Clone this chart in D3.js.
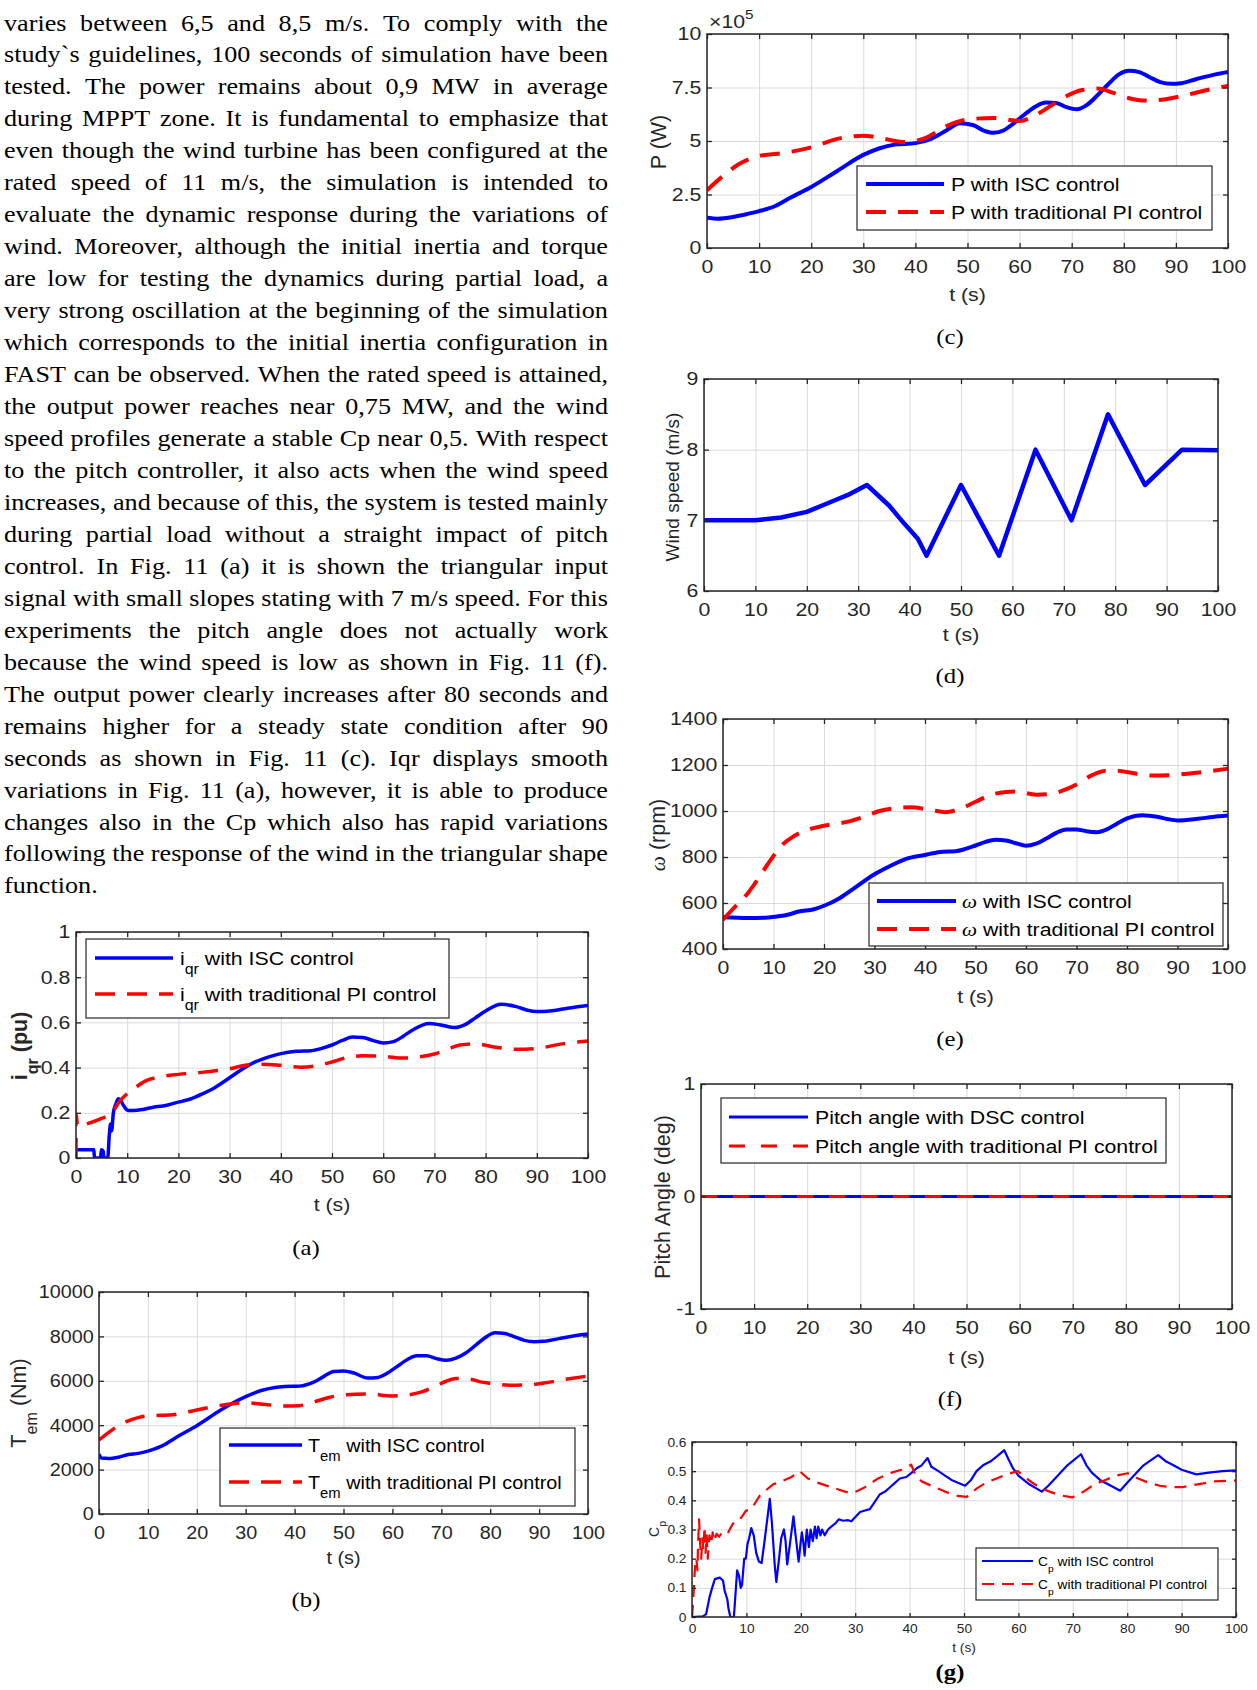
<!DOCTYPE html>
<html>
<head>
<meta charset="utf-8">
<script src="https://cdn.jsdelivr.net/npm/d3@7"></script>
<style>
  body { margin: 0; background: #fff; }
  svg { display: block; }
</style>
</head>
<body>
<svg id="page"></svg>
<script>
// ---- text of the left column ----
const textLines = [
  "varies between 6,5 and 8,5 m/s. To comply with the",
  "study`s guidelines, 100 seconds of simulation have been",
  "tested. The power remains about 0,9 MW in average",
  "during MPPT zone. It is fundamental to emphasize that",
  "even though the wind turbine has been configured at the",
  "rated speed of 11 m/s, the simulation is intended to",
  "evaluate the dynamic response during the variations of",
  "wind. Moreover, although the initial inertia and torque",
  "are low for testing the dynamics during partial load, a",
  "very strong oscillation at the beginning of the simulation",
  "which corresponds to the initial inertia configuration in",
  "FAST can be observed. When the rated speed is attained,",
  "the output power reaches near 0,75 MW, and the wind",
  "speed profiles generate a stable Cp near 0,5. With respect",
  "to the pitch controller, it also acts when the wind speed",
  "increases, and because of this, the system is tested mainly",
  "during partial load without a straight impact of pitch",
  "control. In Fig. 11 (a) it is shown the triangular input",
  "signal with small slopes stating with 7 m/s speed. For this",
  "experiments the pitch angle does not actually work",
  "because the wind speed is low as shown in Fig. 11 (f).",
  "The output power clearly increases after 80 seconds and",
  "remains higher for a steady state condition after 90",
  "seconds as shown in Fig. 11 (c). Iqr displays smooth",
  "variations in Fig. 11 (a), however, it is able to produce",
  "changes also in the Cp which also has rapid variations",
  "following the response of the wind in the triangular shape",
  "function."
];

// ---- tick labels ----
const timeTicks = [0, 10, 20, 30, 40, 50, 60, 70, 80, 90, 100];
const iqrTicks = [0, 0.2, 0.4, 0.6, 0.8, 1];
const temTicks = [0, 2000, 4000, 6000, 8000, 10000];
const powerTicks = [0, 2.5, 5, 7.5, 10];
const windTicks = [6, 7, 8, 9];
const omegaTicks = [400, 600, 800, 1000, 1200, 1400];
const pitchTicks = [-1, 0, 1];
const cpTicks = [0, 0.1, 0.2, 0.3, 0.4, 0.5, 0.6];

// ---- series, [t (s), value] ----
const iqrIsc = [[0,0.037],[3.5,0.037],[3.6,0],[4.8,0],[4.95,0.037],[5.3,0.03],[5.45,0],[6.2,0],[6.5,0.1],[6.75,0.15],[6.95,0.12],[7.3,0.2],[7.8,0.24],[8.25,0.262],[8.7,0.255],[9.35,0.23],[10.2,0.21],[11.2,0.21],[13.1,0.215],[15.1,0.225],[17,0.23],[19.6,0.245],[22.2,0.26],[24.8,0.285],[27,0.31],[30,0.355],[33,0.4],[35,0.425],[38,0.45],[40,0.462],[43,0.472],[46,0.475],[48,0.485],[50,0.5],[52,0.52],[54,0.535],[56,0.533],[58,0.52],[60,0.509],[62,0.515],[64,0.54],[66,0.57],[69,0.595],[71,0.59],[74,0.577],[76,0.59],[78,0.62],[80,0.65],[83,0.68],[86,0.67],[88,0.655],[90,0.648],[93,0.652],[96,0.663],[100,0.675]];
const iqrPi = [[0,0],[0.05,0.19],[0.3,0.14],[2,0.15],[5,0.175],[7,0.2],[8.5,0.25],[10,0.285],[11.5,0.31],[13.5,0.34],[16.7,0.36],[20,0.37],[25,0.38],[30,0.395],[33,0.41],[36,0.415],[40,0.41],[44,0.402],[47,0.408],[50,0.425],[53,0.445],[56,0.452],[60,0.45],[64,0.442],[67,0.447],[70,0.46],[73,0.485],[75,0.5],[78,0.505],[82,0.49],[86,0.481],[90,0.485],[95,0.505],[100,0.518]];

const temIsc = [[0,2690],[0.5,2520],[2,2500],[4,2560],[6,2680],[8,2730],[10,2830],[13,3080],[16,3480],[20,3980],[25,4700],[30,5285],[33,5550],[36,5700],[38,5740],[41,5760],[44,5950],[46,6200],[48,6420],[50,6440],[52,6360],[55,6126],[57,6150],[59,6350],[61,6650],[63,6950],[65,7130],[67,7130],[69,7000],[71,6922],[73,7020],[75,7250],[77,7600],[79,7950],[81,8160],[83,8130],[85,7980],[87,7820],[89,7763],[91,7780],[94,7900],[97,8020],[100,8108]];
const temPi = [[0,3333],[2,3680],[4,3980],[6,4200],[8,4340],[10,4420],[15,4470],[20,4685],[25,4900],[30,5015],[34,4930],[38,4860],[41,4880],[44,5050],[47,5250],[50,5360],[55,5410],[60,5320],[63,5360],[66,5500],[69,5780],[71,5980],[73,6100],[76,6070],[78,5950],[80,5886],[84,5800],[88,5820],[91,5900],[95,6050],[100,6216]];

const powerIsc = [[0,1.41],[2,1.37],[5,1.45],[7,1.55],[10,1.72],[13,1.95],[16,2.35],[20,2.85],[25,3.6],[30,4.35],[33,4.65],[36,4.83],[40,4.9],[43,5.1],[46,5.5],[48.5,5.83],[51,5.75],[53,5.5],[55,5.38],[57,5.5],[59,5.85],[61,6.25],[63,6.6],[65,6.8],[67,6.78],[69,6.58],[71,6.48],[73,6.7],[75,7.15],[77,7.65],[79,8.1],[81,8.28],[83,8.22],[85,7.98],[87,7.75],[89,7.67],[91,7.7],[94,7.9],[97,8.08],[100,8.22]];
const powerPi = [[0,2.7],[3,3.35],[6,3.9],[10,4.3],[15,4.45],[20,4.7],[25,5.1],[30,5.25],[34,5.1],[38,4.95],[42,5.15],[46,5.7],[50,6.0],[55,6.08],[60,5.94],[63,6.2],[66,6.65],[69,7.1],[72,7.38],[75,7.45],[78,7.25],[81,7.0],[84,6.89],[88,6.95],[92,7.15],[96,7.38],[100,7.58]];

const windSpeed = [[0,7],[10,7],[15,7.04],[20,7.12],[25,7.27],[28,7.36],[31.7,7.5],[36,7.21],[39,6.95],[41.6,6.74],[43.3,6.5],[50,7.5],[57.4,6.5],[64.5,8.0],[71.5,7.0],[78.6,8.5],[85.8,7.5],[93,8.0],[100,7.99]];

const omegaIsc = [[0,538],[5,535],[9,537],[11,542],[13,550],[15,563],[18,573],[20,588],[23,620],[26,665],[30,725],[33,760],[36,790],[40,809],[43,822],[46,825],[48,835],[50,850],[52,866],[54,875],[56,872],[58,860],[60,849],[62,858],[64,880],[66,905],[68,920],[70,920],[72,912],[74,908],[76,920],[78,945],[80,968],[83,982],[86,975],[88,965],[90,959],[94,966],[97,974],[100,980]];
const omegaPi = [[0,527],[2,575],[5,645],[8,740],[10,805],[12,858],[14,890],[17,920],[20,936],[25,955],[28,975],[31,1000],[34,1012],[37,1016],[41,1005],[44,995],[47,1010],[50,1040],[53,1070],[56,1083],[58,1085],[62,1071],[65,1075],[68,1095],[70,1115],[73,1155],[76,1175],[78,1175],[81,1165],[85,1154],[88,1155],[92,1162],[96,1172],[100,1184]];

const pitchDsc = [[0,0],[100,0]];
const pitchPi = [[0,0],[100,0]];

const cpIsc = [[0,0],[2,0.002],[2.6,0.01],[3.25,0.07],[3.7,0.1],[4.2,0.13],[5.1,0.135],[5.7,0.125],[6,0.09],[6.5,0.06],[6.7,0.03],[7.05,0],[7.7,0],[8,0.08],[8.3,0.16],[8.65,0.14],[8.95,0.1],[9.2,0.11],[9.6,0.2],[9.9,0.2],[10.2,0.25],[10.5,0.27],[10.9,0.305],[11.35,0.28],[11.8,0.22],[12.3,0.19],[12.8,0.185],[13.4,0.27],[14.3,0.405],[14.7,0.32],[15.2,0.18],[15.5,0.12],[16,0.2],[16.4,0.27],[16.9,0.3],[17.2,0.26],[17.5,0.18],[18,0.25],[18.65,0.345],[19.1,0.27],[19.6,0.19],[20,0.26],[20.2,0.29],[20.5,0.25],[20.7,0.21],[21.1,0.3],[21.5,0.24],[21.8,0.3],[22.2,0.26],[22.6,0.31],[22.9,0.27],[23.2,0.31],[23.6,0.28],[23.9,0.3],[24.4,0.28],[25,0.3],[25.6,0.31],[26.3,0.32],[27,0.335],[27.8,0.33],[28.7,0.332],[29.3,0.328],[29.9,0.34],[30.9,0.36],[31.8,0.365],[32.7,0.37],[33.6,0.395],[34.5,0.42],[35.5,0.43],[36.4,0.445],[37.3,0.46],[38.2,0.475],[39.4,0.48],[40.4,0.495],[41.3,0.51],[42.2,0.52],[43.3,0.545],[44,0.515],[45.3,0.5],[46.5,0.485],[47.7,0.47],[48.9,0.46],[50.2,0.45],[51.3,0.47],[52.3,0.5],[53.5,0.52],[55,0.535],[56,0.55],[57.4,0.572],[58.2,0.54],[59,0.51],[60,0.485],[62,0.455],[64.3,0.43],[65.5,0.45],[67,0.48],[69,0.52],[71.5,0.558],[72.5,0.52],[73.5,0.495],[75,0.47],[77,0.45],[78.7,0.433],[80,0.46],[81.5,0.49],[83,0.52],[85.7,0.555],[87,0.535],[88.5,0.52],[90,0.505],[92.7,0.489],[95,0.495],[97.5,0.5],[100,0.503]];
const cpPi = [[0,0],[0.2,0.05],[0.4,0.12],[0.6,0.19],[0.8,0.2],[1.0,0.16],[1.1,0.24],[1.3,0.335],[1.5,0.25],[1.7,0.2],[1.9,0.27],[2.1,0.23],[2.3,0.31],[2.5,0.22],[2.7,0.28],[2.9,0.2],[3.2,0.28],[3.5,0.25],[3.8,0.29],[4.1,0.26],[4.5,0.285],[5,0.275],[5.5,0.29],[6.5,0.285],[7.5,0.32],[8.5,0.325],[9.9,0.364],[10.9,0.37],[12.5,0.417],[14.9,0.455],[15.8,0.46],[18.3,0.48],[19.8,0.5],[21.3,0.475],[23.2,0.46],[25.6,0.445],[28.1,0.43],[29.6,0.425],[31.8,0.445],[34.2,0.475],[36.7,0.495],[38.5,0.505],[40.3,0.522],[41,0.49],[42.2,0.465],[44,0.45],[46.5,0.43],[48.9,0.415],[50.5,0.412],[52.3,0.44],[54,0.46],[56,0.475],[58,0.49],[59.9,0.5],[61.5,0.475],[63,0.455],[65,0.435],[67.5,0.418],[69.9,0.41],[72,0.43],[74,0.455],[76,0.47],[78,0.485],[80.1,0.493],[82,0.475],[84,0.46],[86,0.45],[88,0.445],[90,0.445],[92,0.452],[94,0.458],[96,0.465],[100,0.468]];

// ---- look ----
const SANS = "'Liberation Sans', Arial, Helvetica, sans-serif";
const SERIF = "'Liberation Serif', 'Times New Roman', serif";
const INK = "#262626";
const BLUE = "#0000ff", RED = "#ff0000";

const svg = d3.select("#page").attr("width", 1257).attr("height", 1690);
svg.append("rect").attr("width", 1257).attr("height", 1690).attr("fill", "#fff");

// tspans with sub/superscripts: parts like [["T"],["em","sub"],[" with ..."]]
function addParts(text, parts, fs) {
  let shift = 0;
  parts.forEach(([s, kind]) => {
    const ts = text.append("tspan").text(s);
    let target = 0;
    if (kind === "sub") { ts.attr("font-size", fs * 0.75); target = fs * 0.5; }
    if (kind === "sup") { ts.attr("font-size", fs * 0.72); target = -fs * 0.5; }
    if (kind === "it") ts.attr("font-family", SERIF).attr("font-style", "italic");
    if (target !== shift) { ts.attr("dy", target - shift); shift = target; }
  });
}

// ---- paragraph, justified ----
const PFS = 24, PX = 4, PW = 604, PSX = 1.09;
const para = svg.append("g").attr("font-family", SERIF).attr("font-size", PFS).attr("fill", "#000");
textLines.forEach((line, i) => {
  const y = 30.5 + i * 31.96;
  const words = line.split(" ");
  const ws = words.map(w => {
    const tmp = para.append("text").text(w);
    const len = tmp.node().getComputedTextLength() * PSX;
    tmp.remove();
    return len;
  });
  const last = i === textLines.length - 1;
  const gap = last ? PFS * 0.25 * PSX : (PW - d3.sum(ws)) / (words.length - 1);
  if (gap < 3) {
    para.append("text").attr("x", PX).attr("y", y)
      .attr("textLength", PW).attr("lengthAdjust", "spacingAndGlyphs").text(line);
    return;
  }
  let x = PX;
  words.forEach((w, j) => {
    para.append("text").attr("transform", `translate(${x},${y}) scale(${PSX},1)`).text(w);
    x += ws[j] + gap;
  });
});

// ---- one MATLAB-style axes ----
function panel(cfg) {
  const g = svg.append("g");
  const { l, r, t, b } = cfg.box;
  const fs = cfg.fs || 18.5;
  const sx = cfg.sx || 1.15;
  const tick = cfg.tick || 5;
  const x = d3.scaleLinear().domain([0, 100]).range([l, r]);
  const y = d3.scaleLinear().domain(cfg.yDomain).range([b, t]);

  g.append("clipPath").attr("id", "clip-" + cfg.id)
    .append("rect").attr("x", l).attr("y", t).attr("width", r - l).attr("height", b - t);

  // grid
  g.append("g").attr("transform", `translate(0,${b})`)
    .call(d3.axisBottom(x).tickValues(timeTicks).tickSize(-(b - t)).tickFormat(""))
    .call(s => s.select(".domain").remove())
    .selectAll("line").attr("stroke", "#dadada");
  g.append("g").attr("transform", `translate(${l},0)`)
    .call(d3.axisLeft(y).tickValues(cfg.yTicks).tickSize(-(r - l)).tickFormat(""))
    .call(s => s.select(".domain").remove())
    .selectAll("line").attr("stroke", "#dadada");

  // data
  const line = d3.line().x(d => x(d[0])).y(d => y(d[1])).curve(cfg.curve || d3.curveMonotoneX);
  cfg.series.forEach(s => {
    g.append("path").attr("clip-path", `url(#clip-${cfg.id})`)
      .attr("d", line(s.data)).attr("fill", "none")
      .attr("stroke", s.color).attr("stroke-width", s.width)
      .attr("stroke-dasharray", s.dash || null).attr("stroke-linejoin", "round");
  });

  // ticks and labels on all sides
  const axes = [
    [d3.axisBottom(x).tickValues(timeTicks).tickFormat(String), `translate(0,${b})`],
    [d3.axisLeft(y).tickValues(cfg.yTicks).tickFormat(String), `translate(${l},0)`],
    [d3.axisTop(x).tickValues(timeTicks).tickFormat(""), `translate(0,${t})`],
    [d3.axisRight(y).tickValues(cfg.yTicks).tickFormat(""), `translate(${r},0)`]
  ];
  axes.forEach(([ax, tr], k) => {
    const a = g.append("g").attr("transform", tr)
      .call(ax.tickSize(-tick).tickSizeOuter(0).tickPadding(k === 0 ? cfg.padX : 5))
      .attr("font-family", SANS).attr("font-size", fs);
    a.select(".domain").remove();
    a.selectAll("line").attr("stroke", INK).attr("stroke-width", 1.3);
    a.selectAll("text").attr("fill", INK).attr("transform", `scale(${sx},1)`);
  });
  g.append("rect").attr("x", l).attr("y", t).attr("width", r - l).attr("height", b - t)
    .attr("fill", "none").attr("stroke", INK).attr("stroke-width", 1.5);

  // x label
  g.append("text").attr("transform", `translate(${(l + r) / 2},${cfg.xLabelY}) scale(${sx},1)`)
    .attr("text-anchor", "middle").attr("font-family", SANS).attr("font-size", fs)
    .attr("fill", INK).text("t (s)");

  // y label
  const yfs = cfg.yLabel.fs || 21.5;
  const yl = g.append("text").attr("transform", `translate(${cfg.yLabel.x},${cfg.yLabel.y}) rotate(-90)`)
    .attr("text-anchor", "middle").attr("font-family", SANS).attr("font-size", yfs)
    .attr("font-weight", cfg.yLabel.bold ? "bold" : null).attr("fill", INK);
  addParts(yl, cfg.yLabel.parts, yfs);

  // legend
  if (cfg.legend) {
    const L = cfg.legend;
    g.append("rect").attr("x", L.x0).attr("y", L.y0).attr("width", L.x1 - L.x0).attr("height", L.y1 - L.y0)
      .attr("fill", "#fff").attr("stroke", INK).attr("stroke-width", 1.2);
    cfg.series.forEach((s, i) => {
      const yc = L.rows[i];
      g.append("line").attr("x1", L.s0).attr("x2", L.s1).attr("y1", yc).attr("y2", yc)
        .attr("stroke", s.color).attr("stroke-width", s.width).attr("stroke-dasharray", s.dash || null);
      const tx = g.append("text").attr("transform", `translate(${L.tx},${yc + fs * 0.36}) scale(${sx},1)`)
        .attr("font-family", SANS).attr("font-size", fs).attr("fill", "#000");
      addParts(tx, s.label, fs);
    });
  }

  // caption
  g.append("text").attr("transform", `translate(${cfg.caption.x},${cfg.caption.y}) scale(1.15,1)`)
    .attr("text-anchor", "middle").attr("font-family", SERIF).attr("font-size", 21.5)
    .attr("font-weight", cfg.caption.bold ? "bold" : null).attr("fill", "#000").text(cfg.caption.text);
  return g;
}

// (a) iqr
panel({
  id: "a", box: { l: 76, r: 588, t: 932, b: 1158 }, yDomain: [0, 1], yTicks: iqrTicks, padX: 12,
  series: [
    { data: iqrIsc, color: BLUE, width: 3.5, label: [["i"], ["qr", "sub"], [" with ISC control"]] },
    { data: iqrPi, color: RED, width: 3.5, dash: "20,12", label: [["i"], ["qr", "sub"], [" with traditional PI control"]] }
  ],
  legend: { x0: 86, x1: 449, y0: 939, y1: 1018, s0: 95, s1: 173, tx: 180, rows: [958, 994] },
  xLabelY: 1211,
  yLabel: { x: 27, y: 1046, bold: true, parts: [["i"], ["qr", "sub"], [" (pu)"]] },
  caption: { x: 306, y: 1255, text: "(a)" }
});

// (b) Tem
panel({
  id: "b", box: { l: 99, r: 588, t: 1292, b: 1514 }, yDomain: [0, 10000], yTicks: temTicks, padX: 12, sx: 1.07,
  series: [
    { data: temIsc, color: BLUE, width: 3.5, label: [["T"], ["em", "sub"], [" with ISC control"]] },
    { data: temPi, color: RED, width: 3.5, dash: "20,12", label: [["T"], ["em", "sub"], [" with traditional PI control"]] }
  ],
  legend: { x0: 220, x1: 575, y0: 1428, y1: 1506, s0: 229, s1: 302, tx: 308, rows: [1445, 1482] },
  xLabelY: 1564,
  yLabel: { x: 26, y: 1403, parts: [["T"], ["em", "sub"], [" (Nm)"]] },
  caption: { x: 306, y: 1607, text: "(b)" }
});

// (c) power
panel({
  id: "c", box: { l: 707, r: 1228, t: 34, b: 248 }, yDomain: [0, 10], yTicks: powerTicks, padX: 12,
  series: [
    { data: powerIsc, color: BLUE, width: 4, label: [["P with ISC control"]] },
    { data: powerPi, color: RED, width: 4, dash: "20,12", label: [["P with traditional PI control"]] }
  ],
  legend: { x0: 857, x1: 1212, y0: 166, y1: 230, s0: 866, s1: 944, tx: 951, rows: [184, 212] },
  xLabelY: 301,
  yLabel: { x: 666, y: 142, parts: [["P (W)"]] },
  caption: { x: 950, y: 344, text: "(c)" }
});
const expo = svg.append("text").attr("transform", "translate(709,28) scale(1.15,1)")
  .attr("font-family", SANS).attr("font-size", 18.5).attr("fill", INK);
addParts(expo, [["×10"], ["5", "sup"]], 18.5);

// (d) wind speed
panel({
  id: "d", box: { l: 704, r: 1218, t: 379, b: 591 }, yDomain: [6, 9], yTicks: windTicks, padX: 12,
  curve: d3.curveLinear,
  series: [{ data: windSpeed, color: BLUE, width: 4.5 }],
  xLabelY: 641,
  yLabel: { x: 679, y: 487, fs: 19, parts: [["Wind speed (m/s)"]] },
  caption: { x: 950, y: 683, text: "(d)" }
});

// (e) omega
panel({
  id: "e", box: { l: 723, r: 1228, t: 719, b: 949 }, yDomain: [400, 1400], yTicks: omegaTicks, padX: 12,
  series: [
    { data: omegaIsc, color: BLUE, width: 4, label: [["ω", "it"], [" with ISC control"]] },
    { data: omegaPi, color: RED, width: 4, dash: "20,12", label: [["ω", "it"], [" with traditional PI control"]] }
  ],
  legend: { x0: 869, x1: 1223, y0: 883, y1: 946, s0: 877, s1: 956, tx: 962, rows: [901, 929] },
  xLabelY: 1003,
  yLabel: { x: 665, y: 835, parts: [["ω", "it"], [" (rpm)"]] },
  caption: { x: 950, y: 1046, text: "(e)" }
});

// (f) pitch angle
panel({
  id: "f", box: { l: 701, r: 1232, t: 1084, b: 1309 }, yDomain: [-1, 1], yTicks: pitchTicks, padX: 12,
  curve: d3.curveLinear,
  series: [
    { data: pitchDsc, color: BLUE, width: 3, label: [["Pitch angle with DSC control"]] },
    { data: pitchPi, color: RED, width: 3, dash: "16,16", label: [["Pitch angle with traditional PI control"]] }
  ],
  legend: { x0: 721, x1: 1166, y0: 1098, y1: 1163, s0: 729, s1: 808, tx: 815, rows: [1117, 1146] },
  xLabelY: 1364,
  yLabel: { x: 670, y: 1197, parts: [["Pitch Angle (deg)"]] },
  caption: { x: 950, y: 1406, text: "(f)" }
});

// (g) Cp
panel({
  id: "g", box: { l: 692, r: 1236, t: 1442, b: 1617 }, yDomain: [0, 0.6], yTicks: cpTicks, padX: 7,
  fs: 12.5, sx: 1.1, tick: 4, curve: d3.curveLinear,
  series: [
    { data: cpIsc, color: BLUE, width: 2.2, label: [["C"], ["p", "sub"], [" with ISC control"]] },
    { data: cpPi, color: RED, width: 2.2, dash: "12,8", label: [["C"], ["p", "sub"], [" with traditional PI control"]] }
  ],
  legend: { x0: 976, x1: 1218, y0: 1548, y1: 1600, s0: 982, s1: 1033, tx: 1038, rows: [1561, 1584] },
  xLabelY: 1652,
  yLabel: { x: 659, y: 1529, fs: 14, parts: [["C"], ["p", "sub"]] },
  caption: { x: 950, y: 1679, text: "(g)", bold: true }
});
</script>
</body>
</html>
